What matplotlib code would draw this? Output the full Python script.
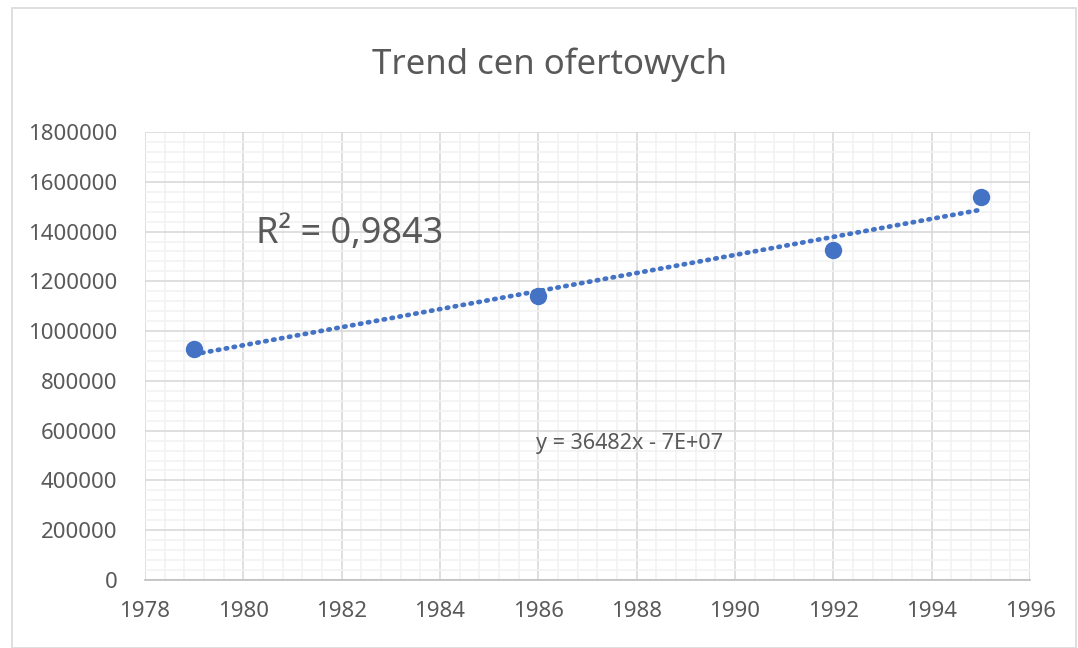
import numpy as np
import matplotlib.pyplot as plt
from matplotlib.ticker import MultipleLocator, FuncFormatter
from matplotlib.patches import Rectangle

plt.rcParams['font.family'] = ['Noto Sans', 'DejaVu Sans']

# data
years = [1979, 1986, 1992, 1995]
prices = [928000, 1141000, 1326000, 1539000]
title = "Trend cen ofertowych"
r2_label = "R² = 0,9843"
eq_label = "y = 36482x - 7E+07"

blue = '#4472C4'
txt = '#595959'

fig = plt.figure(figsize=(10.78, 6.48), dpi=100)
fig.patches.append(Rectangle((12 / 1078, 0), 1 - 12 / 1078 - 0.002, 1 - 8 / 648,
                             transform=fig.transFigure, fill=False,
                             edgecolor='#D9D9D9', linewidth=1.2))

ax = fig.add_axes([145 / 1078, 68 / 648, 885 / 1078, 448 / 648])

###trend line from least squares fit
coef = np.polyfit(years, prices, 1)
xs = np.array([years[0], years[-1]])
ax.plot(xs, np.polyval(coef, xs), color=blue, linewidth=3.4,
        linestyle=(0, (0.3, 1.4)), dash_capstyle='round', zorder=3)
ax.plot(years, prices, 'o', color=blue, markersize=11.5, zorder=4)

ax.set_xlim(1978, 1996)
ax.set_ylim(0, 1800000)
ax.xaxis.set_major_locator(MultipleLocator(2))
ax.xaxis.set_minor_locator(MultipleLocator(0.4))
ax.yaxis.set_major_locator(MultipleLocator(200000))
ax.yaxis.set_minor_locator(MultipleLocator(40000))
ax.yaxis.set_major_formatter(FuncFormatter(lambda v, p: f"{int(round(v))}"))
ax.grid(which='minor', color='#F2F2F2', linewidth=1.2)
ax.grid(which='major', color='#D9D9D9', linewidth=1.2)
ax.set_axisbelow(True)

for s in ['top', 'right', 'left']:
    ax.spines[s].set_visible(False)
ax.spines['bottom'].set_color('#BFBFBF')
ax.spines['bottom'].set_linewidth(1.2)

ax.tick_params(which='both', length=0, colors=txt, labelsize=16)
ax.tick_params(axis='x', pad=15)
ax.tick_params(axis='y', pad=20)

fig.text(550 / 1078, 1 - 65 / 648, title, ha='center', va='center',
         fontsize=25, color=txt)
ax.text(1982.17, 1390000, r2_label, ha='center', va='center', fontsize=26, color=txt)
ax.text(1987.86, 550000, eq_label, ha='center', va='center', fontsize=15.5, color=txt)

fig.savefig('out.png', dpi=100)
